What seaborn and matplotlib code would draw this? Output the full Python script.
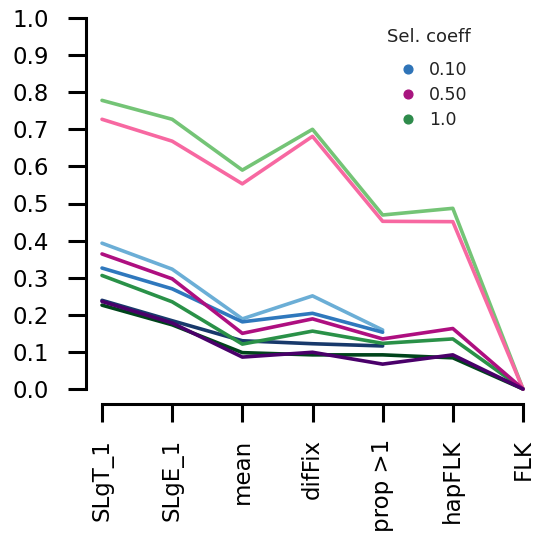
import numpy as np
import pandas as pd
import matplotlib
matplotlib.use("Agg")
import matplotlib.pyplot as plt
import seaborn as sns
from matplotlib.lines import Line2D

nan = np.nan

# ---- data ----
methods = ["SLgT_1", "SLgE_1", "mean", "difFix", "prop >1", "hapFLK", "FLK"]
sel_coeffs = ["0.10", "0.50", "1.0"]

blue_light = [0.393, 0.323, 0.189, 0.251, 0.159, nan, nan]
blue_mid = [0.326, 0.270, 0.181, 0.204, 0.153, nan, nan]
blue_dark = [0.239, 0.184, 0.130, 0.122, 0.116, nan, nan]
mag_light = [0.727, 0.668, 0.553, 0.681, 0.452, 0.451, 0.0]
mag_mid = [0.364, 0.297, 0.150, 0.189, 0.135, 0.163, 0.0]
mag_dark = [0.236, 0.178, 0.086, 0.099, 0.067, 0.092, 0.0]
grn_light = [0.778, 0.727, 0.590, 0.700, 0.469, 0.487, 0.0]
grn_mid = [0.306, 0.235, 0.121, 0.156, 0.123, 0.135, 0.0]
grn_dark = [0.226, 0.173, 0.098, 0.092, 0.092, 0.084, 0.0]

series = {
    "blue_light": blue_light, "blue_mid": blue_mid, "blue_dark": blue_dark,
    "grn_light": grn_light, "grn_mid": grn_mid, "grn_dark": grn_dark,
    "mag_light": mag_light, "mag_mid": mag_mid, "mag_dark": mag_dark,
}
palette = {
    "blue_light": "#6baed6", "blue_mid": "#2f78bd", "blue_dark": "#18396b",
    "grn_light": "#74c476", "grn_mid": "#2a9148", "grn_dark": "#00441b",
    "mag_light": "#f768a1", "mag_mid": "#ae0f80", "mag_dark": "#4a006a",
}
legend_colors = ["#2f74b8", "#a8157f", "#2e8b4b"]

rows = []
for name, vals in series.items():
    for i, v in enumerate(vals):
        rows.append({"pos": i, "value": v, "series": name})
df = pd.DataFrame(rows).dropna()

# ---- figure ----
sns.set_theme(style="white")
plt.rcParams["font.family"] = ["DejaVu Sans"]

W, H = 536, 548
fig = plt.figure(figsize=(W / 100, H / 100), dpi=100)
left, right, top, bottom = 95, 530, 14.3, 392.7
ax = fig.add_axes([left / W, 1 - bottom / H, (right - left) / W, (bottom - top) / H])

sns.lineplot(data=df, x="pos", y="value", hue="series", palette=palette,
             hue_order=list(series.keys()), linewidth=2.6, legend=False,
             errorbar=None, sort=False, ax=ax)

ax.set_xlim(-0.1, 6.1)
ax.set_ylim(-0.01, 1.01)
ax.set_xlabel("")
ax.set_ylabel("")
ax.set_xticks(range(len(methods)))
ax.set_xticklabels(methods)
yt = np.round(np.arange(0, 1.01, 0.1), 1)
ax.set_yticks(yt)
ax.set_yticklabels([f"{v:.1f}" for v in yt])

for s in ["top", "right"]:
    ax.spines[s].set_visible(False)
ax.spines["left"].set_position(("outward", 6.8))
ax.spines["bottom"].set_position(("outward", 8.1))
ax.spines["left"].set_bounds(0, 1)
ax.spines["bottom"].set_bounds(0, 6)
for s in ["left", "bottom"]:
    ax.spines[s].set_linewidth(2.2)
    ax.spines[s].set_color("black")
ax.tick_params(axis="both", which="major", length=13, width=2.2, color="black",
               labelsize=16.5, labelcolor="black", direction="out",
               left=True, bottom=True)
ax.tick_params(axis="y", pad=13.5)
ax.tick_params(axis="x", pad=12, labelrotation=90)
ax.grid(False)

fig.text(387 / W, 1 - 37 / H, "Sel. coeff", fontsize=13, color="#222222",
         ha="left", va="center")
handles = [Line2D([], [], linestyle="none", marker="o", markersize=6.3,
                  color=c) for c in legend_colors]
leg = ax.legend(handles, sel_coeffs, frameon=False,
                loc="upper left", bbox_to_anchor=(387 / W, 1 - 61 / H),
                bbox_transform=fig.transFigure,
                fontsize=12.5, handlelength=2.4,
                handletextpad=0.0, borderpad=0, borderaxespad=0,
                labelspacing=0.41)
for t in leg.get_texts():
    t.set_color("#222222")

fig.savefig("out.png", dpi=100)
